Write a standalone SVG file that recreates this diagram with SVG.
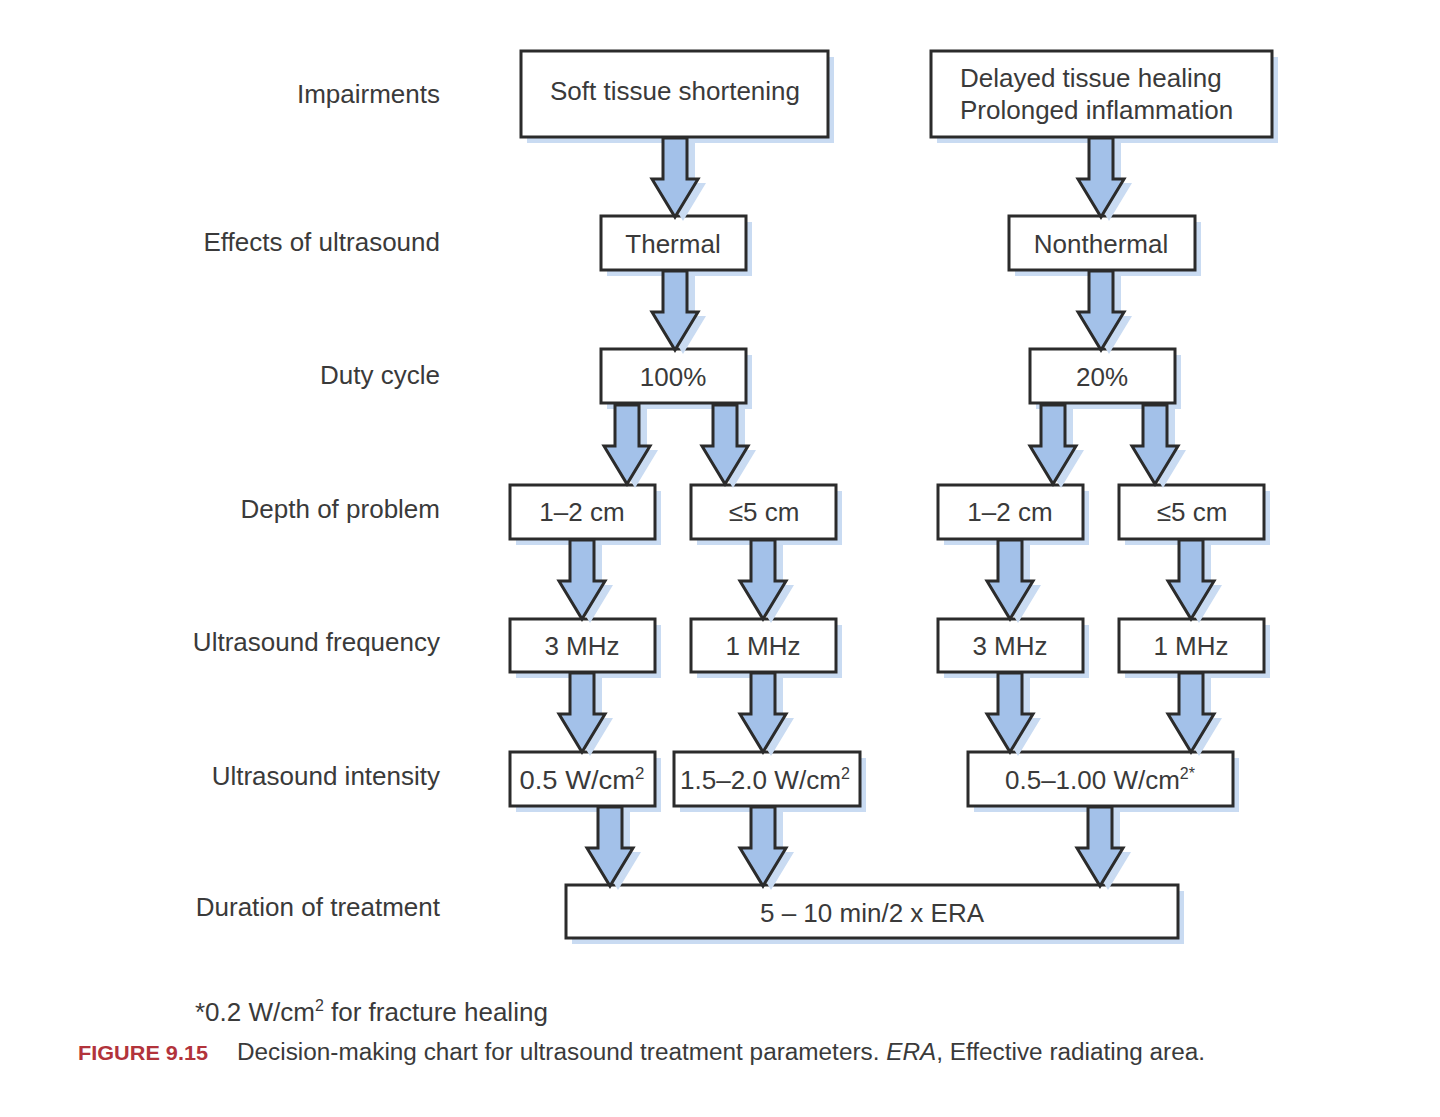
<svg xmlns="http://www.w3.org/2000/svg" width="1440" height="1117" viewBox="0 0 1440 1117">
<style>
.box{fill:#fff;stroke:#2b2b2b;stroke-width:3}
.sh{fill:#c9dbf2}
.t{font-family:"Liberation Sans",Arial,sans-serif;font-size:26px;fill:#3a3a3a}
.c{text-anchor:middle}
.lab{text-anchor:end}
.af{fill:#a3c1e9;stroke:#2b2b2b;stroke-width:3;stroke-linejoin:miter}
.ash{fill:#c9dbf2}
.sup{font-size:16px}
</style>
<defs>
<g id="arr">
<path class="ash" transform="translate(8,4)" d="M-12,0 H12 V41 H23 L0,79 L-23,41 H-12 Z"/>
<path class="af" d="M-12,0 H12 V41 H23 L0,79 L-23,41 H-12 Z"/>
</g>
</defs>
<rect width="1440" height="1117" fill="#fff"/>

<g id="labels">
<text class="t lab" x="440" y="103">Impairments</text>
<text class="t lab" x="440" y="251">Effects of ultrasound</text>
<text class="t lab" x="440" y="384">Duty cycle</text>
<text class="t lab" x="440" y="518">Depth of problem</text>
<text class="t lab" x="440" y="651">Ultrasound frequency</text>
<text class="t lab" x="440" y="785">Ultrasound intensity</text>
<text class="t lab" x="440" y="916">Duration of treatment</text>
</g>

<g id="n-soft"><rect class="sh" x="527" y="57" width="307" height="86"/><rect class="box" x="521" y="51" width="307" height="86"/><text class="t c" x="675" y="100">Soft tissue shortening</text></g>
<g id="n-delayed"><rect class="sh" x="937" y="57" width="341" height="86"/><rect class="box" x="931" y="51" width="341" height="86"/><text class="t" x="960" y="87">Delayed tissue healing</text><text class="t" x="960" y="119">Prolonged inflammation</text></g>
<g id="n-thermal"><rect class="sh" x="607" y="222" width="145" height="54"/><rect class="box" x="601" y="216" width="145" height="54"/><text class="t c" x="673" y="253">Thermal</text></g>
<g id="n-nonthermal"><rect class="sh" x="1015" y="222" width="186" height="54"/><rect class="box" x="1009" y="216" width="186" height="54"/><text class="t c" x="1101" y="253">Nonthermal</text></g>
<g id="n-100"><rect class="sh" x="607" y="355" width="145" height="54"/><rect class="box" x="601" y="349" width="145" height="54"/><text class="t c" x="673" y="386">100%</text></g>
<g id="n-20"><rect class="sh" x="1036" y="355" width="145" height="54"/><rect class="box" x="1030" y="349" width="145" height="54"/><text class="t c" x="1102" y="386">20%</text></g>

<g id="n-d1"><rect class="sh" x="516" y="491" width="145" height="54"/><rect class="box" x="510" y="485" width="145" height="54"/><text class="t c" x="582" y="521">1–2 cm</text></g>
<g id="n-d2"><rect class="sh" x="697" y="491" width="145" height="54"/><rect class="box" x="691" y="485" width="145" height="54"/><text class="t c" x="764" y="521">≤5 cm</text></g>
<g id="n-d3"><rect class="sh" x="944" y="491" width="145" height="54"/><rect class="box" x="938" y="485" width="145" height="54"/><text class="t c" x="1010" y="521">1–2 cm</text></g>
<g id="n-d4"><rect class="sh" x="1125" y="491" width="145" height="54"/><rect class="box" x="1119" y="485" width="145" height="54"/><text class="t c" x="1192" y="521">≤5 cm</text></g>

<g id="n-f1"><rect class="sh" x="516" y="625" width="145" height="53"/><rect class="box" x="510" y="619" width="145" height="53"/><text class="t c" x="582" y="655">3 MHz</text></g>
<g id="n-f2"><rect class="sh" x="697" y="625" width="145" height="53"/><rect class="box" x="691" y="619" width="145" height="53"/><text class="t c" x="763" y="655">1 MHz</text></g>
<g id="n-f3"><rect class="sh" x="944" y="625" width="145" height="53"/><rect class="box" x="938" y="619" width="145" height="53"/><text class="t c" x="1010" y="655">3 MHz</text></g>
<g id="n-f4"><rect class="sh" x="1125" y="625" width="145" height="53"/><rect class="box" x="1119" y="619" width="145" height="53"/><text class="t c" x="1191" y="655">1 MHz</text></g>

<g id="n-i1"><rect class="sh" x="516" y="758" width="145" height="54"/><rect class="box" x="510" y="752" width="145" height="54"/><text class="t c" x="582" y="789" textLength="125" lengthAdjust="spacingAndGlyphs">0.5 W/cm<tspan class="sup" dy="-10">2</tspan></text></g>
<g id="n-i2"><rect class="sh" x="680" y="758" width="186" height="54"/><rect class="box" x="674" y="752" width="186" height="54"/><text class="t c" x="765" y="789" textLength="170" lengthAdjust="spacingAndGlyphs">1.5–2.0 W/cm<tspan class="sup" dy="-10">2</tspan></text></g>
<g id="n-i3"><rect class="sh" x="974" y="758" width="265" height="54"/><rect class="box" x="968" y="752" width="265" height="54"/><text class="t c" x="1100" y="789">0.5–1.00 W/cm<tspan class="sup" dy="-10">2*</tspan></text></g>

<g id="n-dur"><rect class="sh" x="572" y="891" width="612" height="53"/><rect class="box" x="566" y="885" width="612" height="53"/><text class="t c" x="872" y="922">5 – 10 min/2 x ERA</text></g>

<g id="connectors">
<use href="#arr" x="675" y="138"/>
<use href="#arr" x="1101" y="138"/>
<use href="#arr" x="675" y="271"/>
<use href="#arr" x="1101" y="271"/>
<use href="#arr" x="627" y="405"/>
<use href="#arr" x="725" y="405"/>
<use href="#arr" x="1053" y="405"/>
<use href="#arr" x="1155" y="405"/>
<use href="#arr" x="582" y="540"/>
<use href="#arr" x="763" y="540"/>
<use href="#arr" x="1010" y="540"/>
<use href="#arr" x="1191" y="540"/>
<use href="#arr" x="582" y="673"/>
<use href="#arr" x="763" y="673"/>
<use href="#arr" x="1010" y="673"/>
<use href="#arr" x="1191" y="673"/>
<use href="#arr" x="610" y="807"/>
<use href="#arr" x="763" y="807"/>
<use href="#arr" x="1100" y="807"/>
</g>

<g id="footnote">
<text class="t" x="195" y="1021">*0.2 W/cm<tspan class="sup" dy="-10">2</tspan><tspan dy="10"> for fracture healing</tspan></text>
<text x="78" y="1060" style="font-family:'Liberation Sans',Arial,sans-serif;font-size:21px;font-weight:bold;fill:#b2333b" textLength="130" lengthAdjust="spacingAndGlyphs">FIGURE 9.15</text>
<text class="t" x="237" y="1060" style="font-size:23px" textLength="968" lengthAdjust="spacingAndGlyphs">Decision-making chart for ultrasound treatment parameters. <tspan font-style="italic">ERA</tspan>, Effective radiating area.</text>
</g>
</svg>
